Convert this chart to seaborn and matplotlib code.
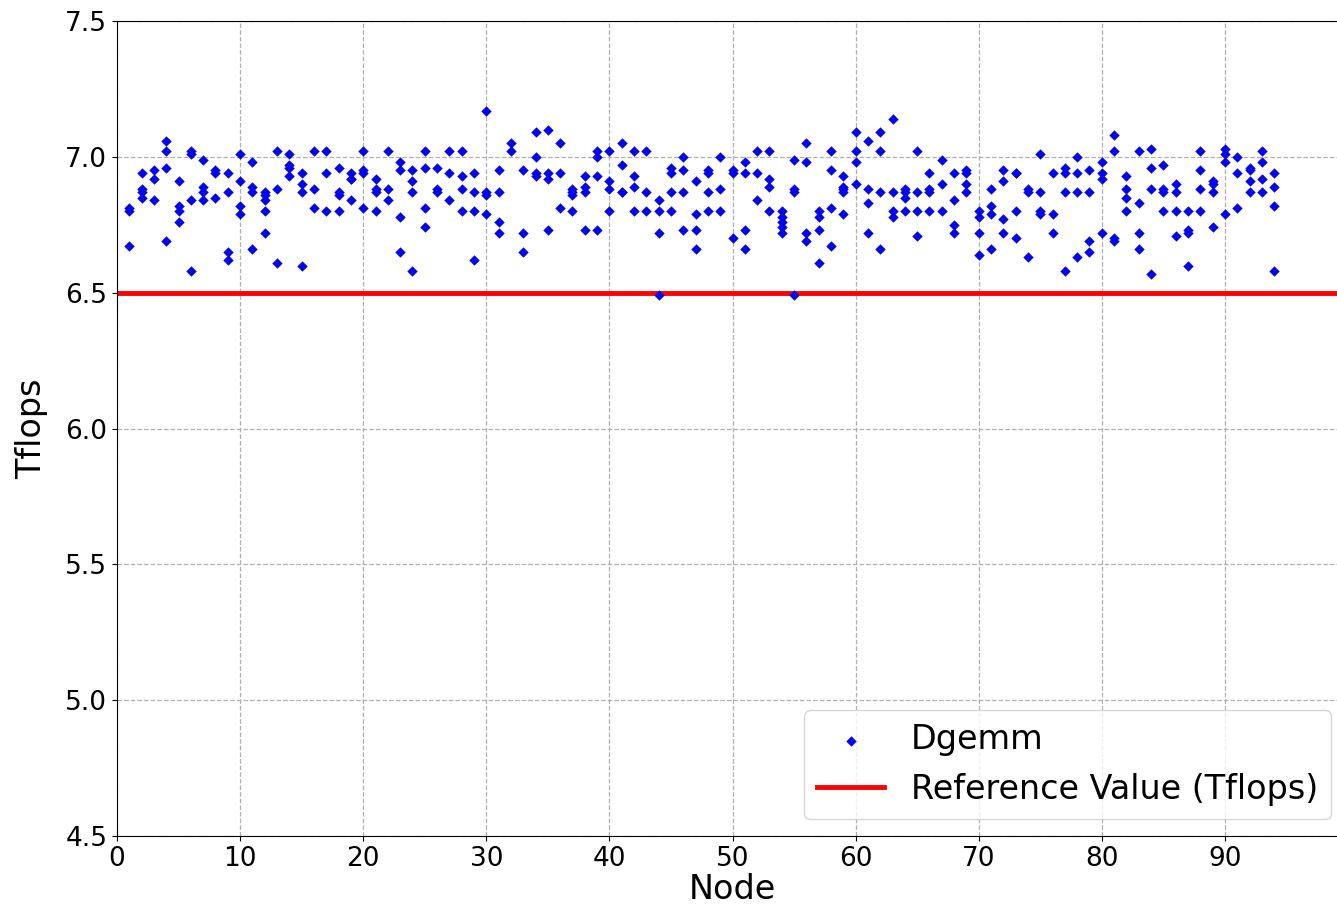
import matplotlib
matplotlib.use("Agg")
import matplotlib.pyplot as plt
import numpy as np
import pandas as pd
import seaborn as sns

# Dgemm results per node (Tflops)
node_ids = list(range(1, 95))
tflops_per_node = [
    [6.80, 6.81, 6.67],
    [6.94, 6.88, 6.87, 6.85],
    [6.95, 6.92, 6.84],
    [7.06, 7.02, 6.96, 6.69],
    [6.91, 6.82, 6.80, 6.76],
    [7.02, 7.01, 6.84, 6.58],
    [6.99, 6.89, 6.87, 6.84],
    [6.95, 6.94, 6.85],
    [6.94, 6.87, 6.65, 6.62],
    [7.01, 6.91, 6.82, 6.79],
    [6.98, 6.89, 6.87, 6.66],
    [6.87, 6.86, 6.84, 6.80, 6.72],
    [7.02, 6.88, 6.61],
    [7.01, 6.97, 6.96, 6.93],
    [6.94, 6.90, 6.87, 6.60],
    [7.02, 6.88, 6.81],
    [7.02, 6.94, 6.80],
    [6.96, 6.87, 6.86, 6.80],
    [6.94, 6.92, 6.92, 6.84],
    [7.02, 6.95, 6.94, 6.81],
    [6.92, 6.88, 6.87, 6.80],
    [7.02, 6.88, 6.84],
    [6.98, 6.95, 6.78, 6.65],
    [6.95, 6.91, 6.87, 6.58],
    [7.02, 6.96, 6.81, 6.74],
    [6.96, 6.88, 6.87],
    [7.02, 6.94, 6.84],
    [7.02, 6.93, 6.88, 6.80],
    [6.94, 6.87, 6.80, 6.62],
    [7.17, 6.87, 6.86, 6.79],
    [6.95, 6.87, 6.76, 6.72],
    [7.05, 7.02],
    [6.95, 6.72, 6.65],
    [7.09, 7.00, 6.94, 6.93],
    [7.10, 6.94, 6.92, 6.73],
    [7.05, 6.94, 6.81],
    [6.88, 6.87, 6.86, 6.80],
    [6.93, 6.89, 6.87, 6.73],
    [7.02, 7.00, 6.93, 6.73],
    [7.02, 6.91, 6.88, 6.80],
    [7.05, 6.97, 6.87, 6.87],
    [7.02, 6.93, 6.89, 6.80],
    [7.02, 6.87, 6.80],
    [6.84, 6.80, 6.72, 6.49],
    [6.96, 6.94, 6.87, 6.80],
    [7.00, 6.95, 6.87, 6.73],
    [6.91, 6.79, 6.73, 6.66],
    [6.95, 6.94, 6.87, 6.80],
    [7.00, 6.88, 6.80],
    [6.95, 6.94, 6.70],
    [6.98, 6.94, 6.73, 6.66],
    [7.02, 6.94, 6.84],
    [7.02, 6.92, 6.89, 6.80],
    [6.80, 6.78, 6.76, 6.74, 6.72],
    [6.99, 6.88, 6.87, 6.49],
    [7.05, 6.98, 6.72, 6.69],
    [6.80, 6.78, 6.73, 6.61],
    [7.02, 6.95, 6.81, 6.67],
    [6.93, 6.89, 6.88, 6.87, 6.79],
    [7.09, 7.02, 6.98, 6.90],
    [7.06, 6.88, 6.83, 6.72],
    [7.09, 7.02, 6.87, 6.66],
    [7.14, 6.87, 6.80, 6.78],
    [6.88, 6.87, 6.85, 6.80],
    [7.02, 6.87, 6.80, 6.71],
    [6.94, 6.88, 6.87, 6.80],
    [6.99, 6.90, 6.80],
    [6.94, 6.84, 6.75, 6.72],
    [6.95, 6.94, 6.90, 6.87],
    [6.80, 6.78, 6.72, 6.64],
    [6.88, 6.82, 6.79, 6.66],
    [6.95, 6.91, 6.77, 6.72],
    [6.94, 6.94, 6.80, 6.70],
    [6.88, 6.87, 6.63],
    [7.01, 6.87, 6.80, 6.79],
    [6.94, 6.79, 6.72],
    [6.96, 6.94, 6.87, 6.58],
    [7.00, 6.94, 6.87, 6.63],
    [6.95, 6.87, 6.69, 6.65],
    [6.98, 6.94, 6.92, 6.72],
    [7.08, 7.02, 6.70, 6.69],
    [6.93, 6.88, 6.85, 6.80],
    [7.02, 6.83, 6.72, 6.66],
    [7.03, 6.96, 6.88, 6.57],
    [6.97, 6.88, 6.87, 6.80],
    [6.90, 6.87, 6.80, 6.71],
    [6.80, 6.73, 6.72, 6.60],
    [7.02, 6.95, 6.88, 6.80],
    [6.91, 6.90, 6.87, 6.74],
    [7.03, 7.01, 6.98, 6.79],
    [7.00, 6.94, 6.81],
    [6.96, 6.95, 6.91, 6.87],
    [7.02, 6.98, 6.92, 6.87],
    [6.94, 6.89, 6.82, 6.58],
]
reference_value = 6.5
x_ticks = list(range(0, 100, 10))
y_ticks = [4.5, 5.0, 5.5, 6.0, 6.5, 7.0, 7.5]

rows = []
for node, vals in zip(node_ids, tflops_per_node):
    for v in vals:
        rows.append((node, v))
df = pd.DataFrame(rows, columns=["Node", "Tflops"])

fig = plt.figure(figsize=(13.37, 9.11), dpi=100)
# the original picture was cropped on the right, so the axes run past the edge
ax = fig.add_axes([117 / 1337, 1 - 836 / 911, 1231 / 1337, 815 / 911])

sns.scatterplot(data=df, x="Node", y="Tflops", marker="D", color="blue",
                s=28, linewidth=0, label="Dgemm", ax=ax, zorder=3)
ax.axhline(reference_value, color="red", linewidth=3.5,
           label="Reference Value (Tflops)", zorder=2)

ax.set_xlim(0, 100)
ax.set_ylim(4.5, 7.5)
ax.set_xticks(x_ticks)
ax.set_yticks(y_ticks)
ax.grid(True, linestyle="--", color="#b0b0b0", linewidth=0.9)
ax.set_axisbelow(True)
ax.tick_params(labelsize=19)
ax.set_xlabel("Node", fontsize=24, labelpad=1)
ax.set_ylabel("Tflops", fontsize=24, labelpad=12)
ax.legend(loc="lower right", fontsize=24)

fig.savefig("out.png", dpi=100)
